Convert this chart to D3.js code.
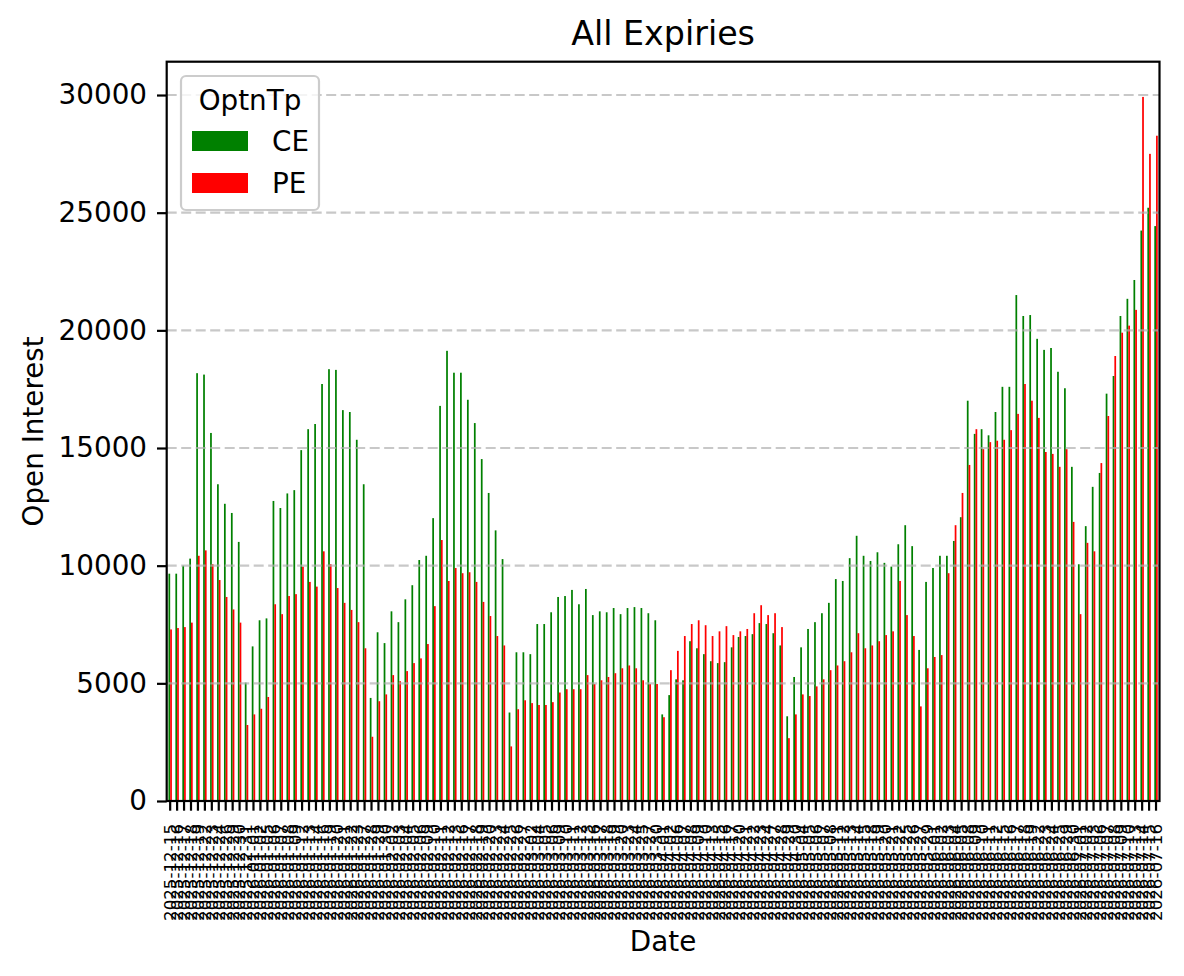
<!DOCTYPE html>
<html>
<head>
<meta charset="utf-8">
<script src="https://cdn.jsdelivr.net/npm/d3@7"></script>
<style>
  body { margin: 0; background: #fff; }
  text { font-family: "DejaVu Sans", sans-serif; fill: #000; }
</style>
</head>
<body>
<div id="chart"></div>
<script>
// trading dates (categories)
var dates = [
  "2025-12-15","2025-12-16","2025-12-17","2025-12-18","2025-12-19","2025-12-22","2025-12-23","2025-12-24","2025-12-26","2025-12-29","2025-12-30","2025-12-31",
  "2026-01-01","2026-01-02","2026-01-05","2026-01-06","2026-01-07","2026-01-08","2026-01-09","2026-01-12","2026-01-13","2026-01-14","2026-01-16","2026-01-19","2026-01-20","2026-01-21","2026-01-22","2026-01-23","2026-01-27","2026-01-28","2026-01-29","2026-01-30",
  "2026-02-02","2026-02-03","2026-02-04","2026-02-05","2026-02-06","2026-02-09","2026-02-10","2026-02-11","2026-02-12","2026-02-13","2026-02-16","2026-02-17","2026-02-18","2026-02-19","2026-02-20","2026-02-23","2026-02-24","2026-02-25","2026-02-26","2026-02-27",
  "2026-03-02","2026-03-04","2026-03-05","2026-03-06","2026-03-09","2026-03-10","2026-03-11","2026-03-12","2026-03-13","2026-03-16","2026-03-17","2026-03-18","2026-03-19","2026-03-20","2026-03-23","2026-03-24","2026-03-25","2026-03-27","2026-03-30",
  "2026-04-01","2026-04-02","2026-04-06","2026-04-07","2026-04-08","2026-04-09","2026-04-10","2026-04-13","2026-04-15","2026-04-16","2026-04-17","2026-04-20","2026-04-21","2026-04-22","2026-04-23","2026-04-24","2026-04-27","2026-04-28","2026-04-29","2026-04-30",
  "2026-05-04","2026-05-05","2026-05-06","2026-05-07","2026-05-08","2026-05-11","2026-05-12","2026-05-13","2026-05-14","2026-05-15","2026-05-18","2026-05-19","2026-05-20","2026-05-21","2026-05-22","2026-05-25","2026-05-26","2026-05-27","2026-05-29",
  "2026-06-01","2026-06-02","2026-06-03","2026-06-04","2026-06-05","2026-06-08","2026-06-09","2026-06-10","2026-06-11","2026-06-12","2026-06-15","2026-06-16","2026-06-17","2026-06-18","2026-06-19","2026-06-22","2026-06-23","2026-06-24","2026-06-25","2026-06-29","2026-06-30",
  "2026-07-01","2026-07-02","2026-07-03","2026-07-06","2026-07-07","2026-07-08","2026-07-09","2026-07-10","2026-07-13","2026-07-14","2026-07-15","2026-07-16"
];

// open interest, calls
var ceValues = [
  9660,9660,10000,10300,18180,18120,15640,13460,12630,12240,11010,5030,6570,7680,7760,12750,12450,13070,13210,14910,
  15800,16020,17720,18350,18320,16610,16530,15350,13460,4380,7170,6710,8060,7600,8570,9170,10240,10420,12020,16790,
  19130,18200,18200,17050,16060,14530,13090,11500,10280,3760,6320,6320,6240,7520,7520,8020,8670,8710,8970,8360,
  9010,7900,8060,8020,8200,7940,8200,8240,8200,7980,7680,3680,4500,5170,5130,6790,6490,6240,5940,5860,
  5900,6530,6970,7010,7090,7560,7520,7130,6610,3600,5270,6530,7310,7600,7980,8420,9430,9350,10320,11270,
  10420,10200,10570,10120,9960,10910,11720,10830,6420,9310,9900,10420,10420,11050,12060,17010,15600,15800,15540,16530,
  17600,17600,21500,20610,20650,19640,19170,19250,18240,17540,14200,10060,11680,13350,13940,17310,18060,20610,21340,22140,
  24240,25210,24430
];

// open interest, puts
var peValues = [
  7290,7350,7390,7580,10420,10650,10060,9390,8670,8140,7580,3230,3680,3920,4420,8360,7940,8710,8790,9960,
  9310,9110,10610,10060,9050,8420,8120,7600,6490,2730,4240,4530,5350,5090,5520,5860,6060,6670,8280,11090,
  9350,9900,9680,9720,9310,8460,7860,7010,6610,2320,3900,4280,4160,4080,4080,4200,4610,4750,4750,4750,
  5350,4970,5130,5270,5430,5640,5760,5640,5130,4970,4970,3560,5560,6380,7010,7520,7680,7470,7010,7210,
  7430,7050,7210,7310,7980,8320,7900,7980,7390,2670,3680,4530,4460,4870,5170,5560,5760,5940,6320,7130,
  6490,6610,6790,7050,7210,9350,7900,7010,4020,5640,6120,6200,9680,11720,13090,14280,15800,14950,15250,15310,
  15350,15760,16450,17720,17010,16280,14830,14750,14200,14950,11860,7940,10970,10610,14360,16360,18910,19900,20200,20870,
  29920,27500,28270
];

var seriesNames = ["CE", "PE"];
var seriesColors = ["#008000", "#ff0000"];
var yTicks = [0, 5000, 10000, 15000, 20000, 25000, 30000];

var width = 1184, height = 976;
var plotLeft = 166.7, plotRight = 1159.5, plotTop = 61.7, plotBottom = 801;

var svg = d3.select("#chart")
            .append("svg")
            .attr("width", width)
            .attr("height", height);

var rows = dates.map(function(d, i) {
    return { date: d, CE: ceValues[i], PE: peValues[i] };
});

var x = d3.scaleBand()
          .domain(dates)
          .range([plotLeft, plotRight])
          .padding(0);

var step = x.step();

// two bars share the middle half of each slot
var xSeries = d3.scaleBand()
                .domain(seriesNames)
                .range([step * 0.25, step * 0.75])
                .padding(0);

var yMax = d3.max(ceValues.concat(peValues)) * 1.05;
var y = d3.scaleLinear()
          .domain([0, yMax])
          .range([plotBottom, plotTop]);

// bars
seriesNames.forEach(function(name, k) {
    svg.append("g")
        .selectAll("rect")
        .data(rows)
        .enter()
        .append("rect")
        .attr("x", function(d) { return x(d.date) + xSeries(name); })
        .attr("y", function(d) { return y(d[name]); })
        .attr("width", xSeries.bandwidth())
        .attr("height", function(d) { return plotBottom - y(d[name]); })
        .style("fill", seriesColors[k]);
});

// dashed grid on y (drawn above bars like matplotlib)
svg.append("g")
    .selectAll("line")
    .data(yTicks)
    .enter()
    .append("line")
    .attr("x1", plotLeft)
    .attr("x2", plotRight)
    .attr("y1", function(d) { return y(d); })
    .attr("y2", function(d) { return y(d); })
    .style("stroke", "#b0b0b0")
    .style("stroke-opacity", 0.7)
    .style("stroke-width", 2.2)
    .style("stroke-dasharray", "10,4.5");

// x axis
var xAxis = svg.append("g")
    .attr("transform", "translate(0," + plotBottom + ")")
    .call(d3.axisBottom(x).tickSize(9.7).tickSizeOuter(0));
xAxis.select(".domain").remove();
xAxis.selectAll(".tick line").style("stroke", "#000").style("stroke-width", 2.2);
xAxis.selectAll(".tick text")
    .attr("transform", "rotate(-90)")
    .attr("x", -23)
    .attr("y", 0)
    .attr("dy", "0.35em")
    .style("text-anchor", "end")
    .style("font-size", "16.7px")
    .style("font-family", "DejaVu Sans");

// y axis
var yAxis = svg.append("g")
    .attr("transform", "translate(" + plotLeft + ",0)")
    .call(d3.axisLeft(y).tickValues(yTicks).tickFormat(d3.format("d")).tickSize(9.7).tickPadding(10).tickSizeOuter(0));
yAxis.select(".domain").remove();
yAxis.selectAll(".tick line").style("stroke", "#000").style("stroke-width", 2.2);
yAxis.selectAll(".tick text")
    .style("font-size", "27.8px")
    .style("font-family", "DejaVu Sans");

// frame
svg.append("rect")
    .attr("x", plotLeft)
    .attr("y", plotTop)
    .attr("width", plotRight - plotLeft)
    .attr("height", plotBottom - plotTop)
    .style("fill", "none")
    .style("stroke", "#000")
    .style("stroke-width", 2.2);

// title and labels
svg.append("text")
    .attr("x", (plotLeft + plotRight) / 2)
    .attr("y", 45)
    .attr("text-anchor", "middle")
    .style("font-size", "33.3px")
    .text("All Expiries");

svg.append("text")
    .attr("x", (plotLeft + plotRight) / 2)
    .attr("y", 951)
    .attr("text-anchor", "middle")
    .style("font-size", "27.8px")
    .text("Date");

svg.append("text")
    .attr("transform", "translate(43," + ((plotTop + plotBottom) / 2) + ") rotate(-90)")
    .attr("text-anchor", "middle")
    .style("font-size", "27.8px")
    .text("Open Interest");

// legend
var legend = svg.append("g");
legend.append("rect")
    .attr("x", 181)
    .attr("y", 76)
    .attr("width", 138)
    .attr("height", 134)
    .attr("rx", 5)
    .style("fill", "#fff")
    .style("fill-opacity", 0.8)
    .style("stroke", "#cccccc")
    .style("stroke-width", 2.2);

legend.append("text")
    .attr("x", 250)
    .attr("y", 110)
    .attr("text-anchor", "middle")
    .style("font-size", "27.8px")
    .text("OptnTp");

seriesNames.forEach(function(name, k) {
    var cy = 141 + k * 42;
    legend.append("rect")
        .attr("x", 192)
        .attr("y", cy - 10)
        .attr("width", 56)
        .attr("height", 20)
        .style("fill", seriesColors[k]);
    legend.append("text")
        .attr("x", 272)
        .attr("y", cy + 10)
        .style("font-size", "27.8px")
        .text(name);
});
</script>
</body>
</html>
